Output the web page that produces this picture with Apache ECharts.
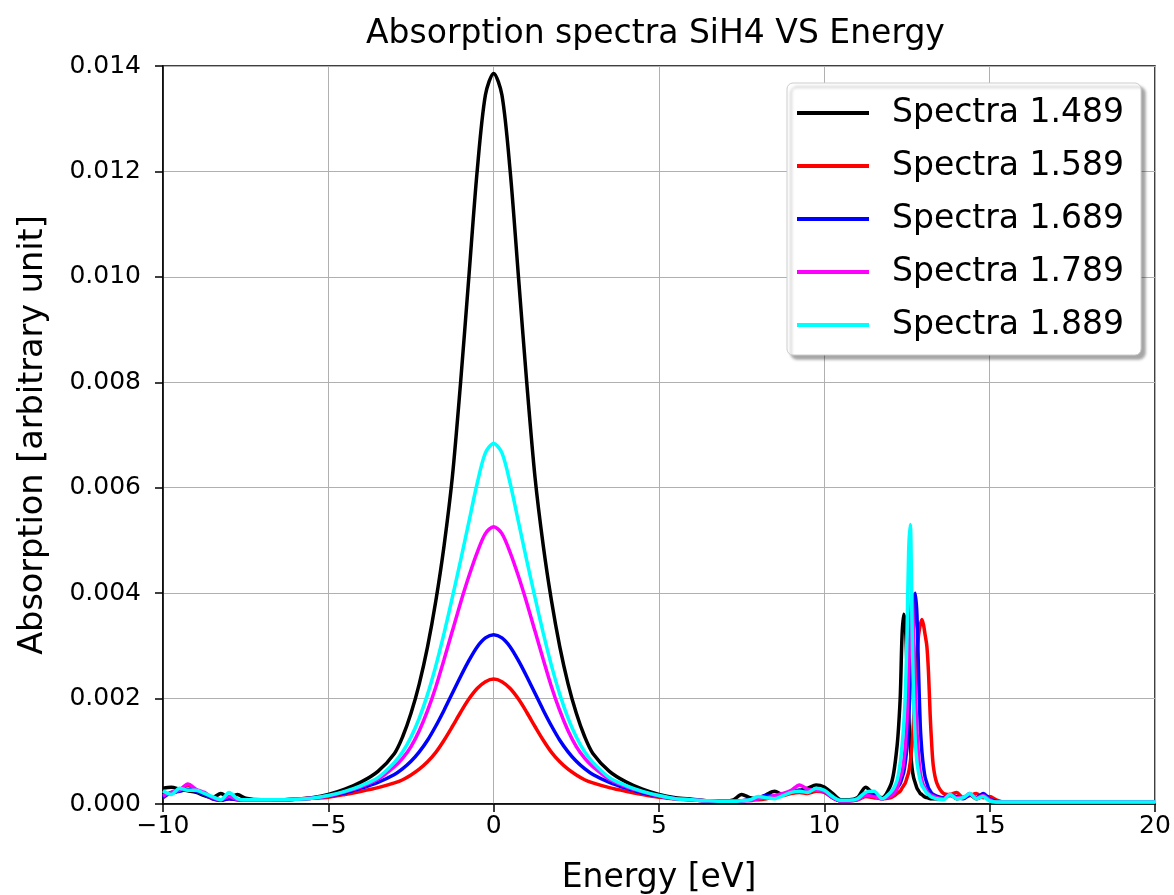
<!DOCTYPE html>
<html>
<head>
<meta charset="utf-8">
<script src="https://cdn.jsdelivr.net/npm/echarts@6/dist/echarts.min.js"></script>
<style>
html,body{margin:0;padding:0;background:#fff;}
#chart{width:1174px;height:895px;}
</style>
</head>
<body>
<div id="chart"></div>
<script>
// Energy grid [eV]
const energy = [
  -10, -9.75, -9.5, -9.25, -9, -8.75, -8.5, -8.25, -8, -7.75, -7.5, -7, -6.5, -6, -5.5,
  -5, -4.5, -4, -3.5, -3, -2.75, -2.5, -2.25, -2, -1.75, -1.5, -1.25, -1, -0.75, -0.5, -0.25,
  0, 0.25, 0.5, 0.75, 1, 1.25, 1.5, 1.75, 2, 2.25, 2.5, 2.75, 3, 3.5, 4, 4.5, 5,
  5.5, 6, 6.5, 7, 7.25, 7.5, 7.75, 8, 8.25, 8.5, 8.75, 9, 9.25, 9.5, 9.75, 10, 10.25, 10.5, 10.75, 11, 11.25, 11.5, 11.75,
  12, 12.1, 12.2, 12.25, 12.3, 12.35, 12.4, 12.45, 12.5, 12.55, 12.6, 12.65, 12.7, 12.75, 12.8, 12.85, 12.9, 12.95, 13, 13.05, 13.1, 13.15, 13.2, 13.25, 13.3, 13.4,
  13.6, 13.8, 14, 14.2, 14.4, 14.6, 14.8, 15, 15.2, 15.4, 16, 18, 20
];

const spectra1489 = [
  0.00030, 0.00032, 0.00028, 0.00025, 0.00022, 0.00016, 0.00012, 0.00020, 0.00012, 0.00018, 0.00011, 0.00008, 0.00008, 0.00009, 0.00012,
  0.00018, 0.00028, 0.00042, 0.00062, 0.00096, 0.00128, 0.00172, 0.00228, 0.00298, 0.00385, 0.0049, 0.0062, 0.0080, 0.0100, 0.0120, 0.01345,
  0.01386, 0.01345, 0.0120, 0.0100, 0.0080, 0.0062, 0.0049, 0.00385, 0.00298, 0.00228, 0.00172, 0.00128, 0.00096, 0.00062, 0.00042, 0.00028, 0.00018,
  0.00012, 0.00009, 0.00006, 0.00006, 0.00008, 0.00018, 0.00012, 0.00010, 0.00018, 0.00024, 0.00018, 0.00022, 0.00026, 0.00030, 0.00036, 0.00032, 0.00020, 0.00008, 0.00008, 0.00012, 0.00032, 0.00018, 0.00012,
  0.00035, 0.0006, 0.0011, 0.0015, 0.0021, 0.0032, 0.0036, 0.0034, 0.0026, 0.0017, 0.0011, 0.0007, 0.0005, 0.0004, 0.0003, 0.00025, 0.0002, 0.00018, 0.00015, 0.00013, 0.00012, 0.00011, 0.0001, 0.0001, 0.0001, 0.0001,
  0.00012, 0.00018, 0.0001, 0.00012, 0.00018, 0.0001, 0.00015, 0.00008, 0.00005, 0.00004, 0.00004, 0.00004, 0.00004
];

const spectra1589 = [
  0.00018, 0.00020, 0.00026, 0.00036, 0.00025, 0.00018, 0.00010, 0.00008, 0.00010, 0.00008, 0.00007, 0.00007, 0.00008, 0.00009, 0.00011,
  0.00013, 0.00018, 0.00024, 0.00031, 0.00040, 0.00046, 0.00055, 0.00066, 0.00080, 0.00098, 0.00121, 0.00147, 0.00174, 0.00199, 0.00219, 0.00232,
  0.00237, 0.00232, 0.00219, 0.00199, 0.00174, 0.00147, 0.00121, 0.00098, 0.00080, 0.00066, 0.00055, 0.00046, 0.00040, 0.00031, 0.00024, 0.00018, 0.00013,
  0.00010, 0.00008, 0.00006, 0.00005, 0.00005, 0.00006, 0.00008, 0.00008, 0.00010, 0.00014, 0.00016, 0.00020, 0.00022, 0.00020, 0.00024, 0.00022, 0.00012, 0.00006, 0.00006, 0.00008, 0.00014, 0.00012, 0.00010,
  0.00012, 0.00015, 0.0002, 0.00022, 0.00025, 0.0003, 0.00035, 0.0004, 0.0005, 0.0006, 0.0008, 0.0011, 0.0016, 0.0022, 0.0028, 0.0032, 0.0034, 0.0035, 0.0034, 0.0032, 0.0030, 0.0025, 0.0017, 0.0011, 0.0007, 0.0004,
  0.0002, 0.00018, 0.00022, 0.00012, 0.00016, 0.00020, 0.00012, 0.00014, 0.00008, 0.00004, 0.00004, 0.00004, 0.00004
];

const spectra1689 = [
  0.00012, 0.00022, 0.00024, 0.00028, 0.00024, 0.00018, 0.00010, 0.00007, 0.00010, 0.00008, 0.00007, 0.00007, 0.00008, 0.00009, 0.00011,
  0.00015, 0.00021, 0.00030, 0.00041, 0.00056, 0.00067, 0.00081, 0.00099, 0.00121, 0.00148, 0.00178, 0.00210, 0.00242, 0.00272, 0.00298, 0.00315,
  0.00321, 0.00315, 0.00298, 0.00272, 0.00242, 0.00210, 0.00178, 0.00148, 0.00121, 0.00099, 0.00081, 0.00067, 0.00056, 0.00041, 0.00030, 0.00021, 0.00015,
  0.00010, 0.00008, 0.00006, 0.00005, 0.00005, 0.00006, 0.00008, 0.00012, 0.00016, 0.00014, 0.00018, 0.00024, 0.00026, 0.00024, 0.00028, 0.00024, 0.00012, 0.00006, 0.00006, 0.00010, 0.00020, 0.00016, 0.00010,
  0.00016, 0.0002, 0.0003, 0.00035, 0.0004, 0.0005, 0.0006, 0.0008, 0.0011, 0.0016, 0.0023, 0.0029, 0.0034, 0.0040, 0.0036, 0.0025, 0.0015, 0.0010, 0.0007, 0.0005, 0.0004, 0.0003, 0.00025, 0.0002, 0.00018, 0.00015,
  0.00012, 0.00016, 0.00014, 0.0001, 0.00018, 0.00012, 0.0002, 0.0001, 0.00005, 0.00004, 0.00004, 0.00004, 0.00004
];

const spectra1789 = [
  0.00015, 0.00022, 0.00026, 0.00038, 0.00028, 0.00022, 0.00012, 0.00008, 0.00014, 0.00008, 0.00007, 0.00007, 0.00008, 0.00009, 0.00011,
  0.00015, 0.00023, 0.00033, 0.00047, 0.00071, 0.00087, 0.00109, 0.00139, 0.00177, 0.00222, 0.00274, 0.00328, 0.00382, 0.00432, 0.00477, 0.00513,
  0.00526, 0.00513, 0.00477, 0.00432, 0.00382, 0.00328, 0.00274, 0.00222, 0.00177, 0.00139, 0.00109, 0.00087, 0.00071, 0.00047, 0.00033, 0.00023, 0.00015,
  0.00010, 0.00008, 0.00006, 0.00005, 0.00005, 0.00006, 0.00006, 0.00010, 0.00012, 0.00016, 0.00020, 0.00026, 0.00036, 0.00028, 0.00026, 0.00024, 0.00012, 0.00006, 0.00006, 0.00008, 0.00016, 0.00014, 0.00010,
  0.00015, 0.0002, 0.0003, 0.0004, 0.0005, 0.0006, 0.0008, 0.0011, 0.0016, 0.0025, 0.0034, 0.0040, 0.0032, 0.0022, 0.0014, 0.0009, 0.0006, 0.00045, 0.00035, 0.0003, 0.00025, 0.0002, 0.00018, 0.00016, 0.00015, 0.00012,
  0.0001, 0.00018, 0.00012, 0.00012, 0.0002, 0.00011, 0.00016, 0.00008, 0.00004, 0.00004, 0.00004, 0.00004, 0.00004
];

const spectra1889 = [
  0.00025, 0.00018, 0.00030, 0.00026, 0.00026, 0.00020, 0.00014, 0.00008, 0.00022, 0.00010, 0.00008, 0.00008, 0.00008, 0.00009, 0.00011,
  0.00016, 0.00024, 0.00035, 0.00050, 0.00079, 0.00099, 0.00127, 0.00163, 0.00208, 0.00262, 0.00324, 0.00392, 0.00462, 0.00535, 0.00608, 0.00666,
  0.00684, 0.00666, 0.00608, 0.00535, 0.00462, 0.00392, 0.00324, 0.00262, 0.00208, 0.00163, 0.00127, 0.00099, 0.00079, 0.00050, 0.00035, 0.00024, 0.00016,
  0.00010, 0.00008, 0.00006, 0.00005, 0.00005, 0.00006, 0.00008, 0.00014, 0.00012, 0.00010, 0.00016, 0.00022, 0.00024, 0.00022, 0.00030, 0.00026, 0.00014, 0.00007, 0.00007, 0.00010, 0.00022, 0.00024, 0.00010,
  0.00022, 0.00030, 0.00045, 0.0006, 0.0008, 0.0011, 0.0015, 0.0021, 0.0032, 0.0048, 0.0053, 0.0035, 0.0020, 0.0012, 0.0008, 0.0006, 0.00045, 0.00035, 0.0003, 0.00025, 0.0002, 0.00018, 0.00015, 0.00013, 0.00012, 0.0001,
  0.00008, 0.00018, 0.0001, 0.00012, 0.0002, 0.0001, 0.00014, 0.00006, 0.00004, 0.00004, 0.00004, 0.00004, 0.00004
];

const seriesNames = ['Spectra 1.489', 'Spectra 1.589', 'Spectra 1.689', 'Spectra 1.789', 'Spectra 1.889'];
const seriesValues = [spectra1489, spectra1589, spectra1689, spectra1789, spectra1889];
const seriesColors = ['#000000', '#ff0000', '#0000ff', '#ff00ff', '#00ffff'];

const xTicks = { min: -10, max: 20, interval: 5 };
const yTicks = { min: 0, max: 0.014, interval: 0.002 };

const FONT = 'DejaVu Sans';
const chart = echarts.init(document.getElementById('chart'), null, { renderer: 'canvas' });

const series = seriesNames.map((name, i) => ({
  name: name,
  type: 'line',
  data: energy.map((x, k) => [x, seriesValues[i][k]]),
  showSymbol: false,
  symbol: 'none',
  smooth: 0.3,
  lineStyle: { color: seriesColors[i], width: 3.5 },
  itemStyle: { color: seriesColors[i] },
  z: 2 + i
}));

chart.setOption({
  animation: false,
  backgroundColor: '#ffffff',
  title: {
    text: 'Absorption spectra SiH4 VS Energy',
    left: 361,
    top: 13,
    textStyle: { fontFamily: FONT, fontSize: 33, fontWeight: 'normal', color: '#000' }
  },
  grid: {
    left: 163, right: 19, top: 66, bottom: 91,
    outerBoundsMode: 'none',
    containLabel: false,
    show: true, borderColor: '#000', borderWidth: 1.5, backgroundColor: 'transparent'
  },
  legend: {
    orient: 'vertical',
    left: 787,
    top: 83,
    padding: [10, 17, 10, 10],
    itemGap: 13,
    itemWidth: 72,
    itemHeight: 4,
    icon: 'rect',
    backgroundColor: '#ffffff',
    borderColor: '#cccccc',
    borderWidth: 1,
    borderRadius: 6,
    shadowColor: 'rgba(0,0,0,0.35)',
    shadowBlur: 3,
    shadowOffsetX: 4,
    shadowOffsetY: 4,
    textStyle: { fontFamily: FONT, fontSize: 33, color: '#000', lineHeight: 40, padding: [0, 0, 0, 18] },
    data: seriesNames
  },
  xAxis: {
    type: 'value',
    min: xTicks.min, max: xTicks.max, interval: xTicks.interval,
    name: 'Energy [eV]',
    nameLocation: 'middle',
    nameGap: 58,
    nameTextStyle: { fontFamily: FONT, fontSize: 33, color: '#000' },
    axisLine: { show: true, onZero: false, lineStyle: { color: '#000', width: 1.5 } },
    axisTick: { show: true, length: 8, lineStyle: { color: '#000', width: 1.5 } },
    axisLabel: {
      fontFamily: FONT, fontSize: 25, color: '#000', margin: 10,
      formatter: v => (v < 0 ? '\u2212' + Math.abs(v) : String(v))
    },
    splitLine: { show: true, lineStyle: { color: '#b0b0b0', width: 1 } }
  },
  yAxis: {
    type: 'value',
    min: yTicks.min, max: yTicks.max, interval: yTicks.interval,
    name: 'Absorption [arbitrary unit]',
    nameLocation: 'middle',
    nameGap: 113,
    nameTextStyle: { fontFamily: FONT, fontSize: 33.5, color: '#000' },
    axisLine: { show: true, onZero: false, lineStyle: { color: '#000', width: 1.5 } },
    axisTick: { show: true, length: 8, lineStyle: { color: '#000', width: 1.5 } },
    axisLabel: {
      fontFamily: FONT, fontSize: 25, color: '#000', margin: 22,
      formatter: v => v.toFixed(3)
    },
    splitLine: { show: true, lineStyle: { color: '#b0b0b0', width: 1 } }
  },
  series: series
});
</script>
</body>
</html>
